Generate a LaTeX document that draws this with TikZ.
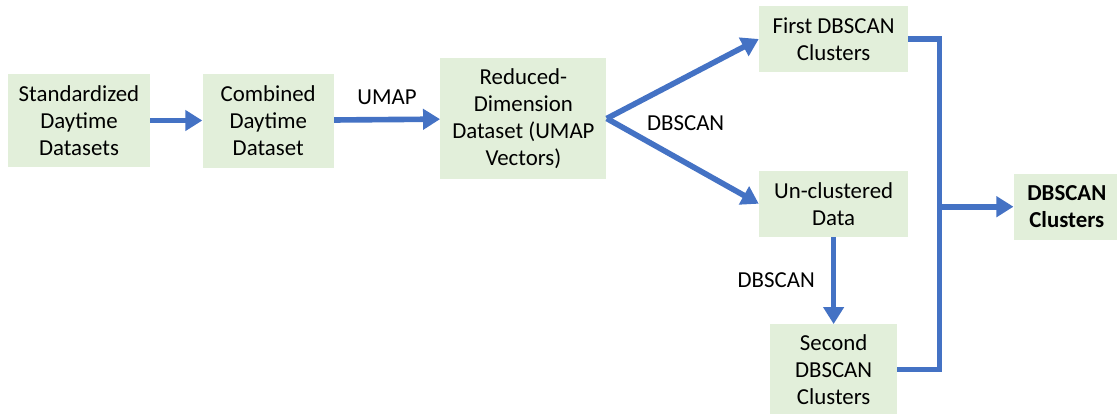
\documentclass[tikz,border=0pt]{standalone}
\usepackage{fontspec}
\setmainfont{Carlito}
\usepackage{xcolor}
\usetikzlibrary{arrows.meta, positioning, calc}
\definecolor{FlowBlue}{RGB}{68, 114, 196}
\definecolor{FlowGreen}{RGB}{226, 239, 218}
\definecolor{FlowBlack}{RGB}{0, 0, 0}

\begin{document}
\begin{tikzpicture}[
    font=\fontsize{13}{15.4}\selectfont,
    % Styles
    databox/.style={rectangle, draw=none, fill=FlowGreen, align=center, text=FlowBlack, inner sep=2pt},
    arrow/.style={line width=3.2pt, -{Triangle[length=0.34cm, width=0.4cm]}, color=FlowBlue},
    line/.style={line width=3.2pt, -, color=FlowBlue, line join=miter},
    labelbox/.style={rectangle, draw=none, fill=none, inner sep=0pt, align=center, text=FlowBlack}
]
\useasboundingbox (0,0) rectangle (22.34,-8.28);

% ==========================================================================================
% MAIN ROW
% ==========================================================================================

% Standardized datasets
\node[databox, minimum width=2.84cm, minimum height=1.86cm] (std) at (1.58,-2.41) {Standardized\\Daytime\\Datasets};

% Combined dataset
\node[databox, right=1.04cm of std, minimum width=2.62cm, minimum height=1.88cm] (comb) {Combined\\Daytime\\Dataset};

% Reduced dataset
\node[databox, right=2.12cm of comb, yshift=0.04cm, minimum width=3.32cm, minimum height=2.42cm] (reduced) {Reduced-\\Dimension\\Dataset (UMAP\\Vectors)};

% Arrows
\draw[arrow] (std) -- (comb);
\draw[arrow] (comb) -- node[labelbox, above=0.24cm] {UMAP} (reduced);

% ==========================================================================================
% DBSCAN BRANCHES
% ==========================================================================================

% First clusters
\node[databox, right=3.04cm of reduced, yshift=1.59cm, minimum width=2.98cm, minimum height=1.32cm] (first) {First DBSCAN\\Clusters};

% Un-clustered data
\node[databox, below=1.96cm of first, minimum width=2.98cm, minimum height=1.32cm] (unclust) {Un-clustered\\Data};

% Second clusters
\node[databox, below=1.74cm of unclust, minimum width=2.54cm, minimum height=1.8cm] (second) {Second\\DBSCAN\\Clusters};

% Final result
\node[databox, right=2.1cm of unclust, yshift=-0.06cm, minimum width=2.12cm, minimum height=1.32cm, font=\fontsize{13}{15.4}\selectfont\bfseries] (final) {DBSCAN\\Clusters};

% Arrows
\draw[arrow] (reduced.east) -- (first.west);
\draw[arrow] (reduced.east) -- (unclust.west);
\node[labelbox, right=0.8cm of reduced.east, yshift=-0.1cm] (dbscan1) {DBSCAN};
\draw[arrow] (unclust) -- node[labelbox, left=0.32cm] {DBSCAN} (second);

% Merge into final clusters
\coordinate[right=0.62cm of first.east] (join);
\draw[line] (first.east) -- (join) |- (second.east);
\draw[arrow] (join |- final.west) -- (final.west);

\end{tikzpicture}
\end{document}
